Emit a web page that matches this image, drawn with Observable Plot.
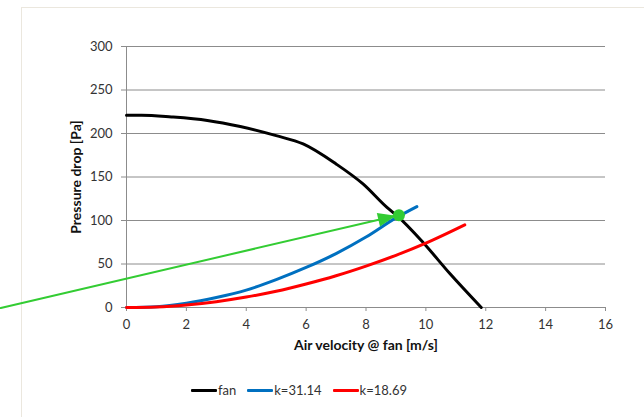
<!DOCTYPE html>
<html><head><meta charset="utf-8">
<script src="https://cdn.jsdelivr.net/npm/d3@7"></script>
<script src="https://cdn.jsdelivr.net/npm/@observablehq/plot@0.6"></script>
<style>
body{margin:0;background:#fff;}
#wrap{position:relative;width:644px;height:417px;overflow:hidden;font-family:Lato,"Open Sans",sans-serif;}
#frame{position:absolute;left:21px;top:7px;width:700px;height:500px;border-left:1px solid #ebe7de;border-top:1px solid #ebe7de;}
#chart{position:absolute;left:0;top:0;}
#legend{position:absolute;top:382px;left:191px;display:flex;align-items:center;font-size:13px;color:#333;line-height:16px;white-space:nowrap;}
.item{display:flex;align-items:center;margin-right:11px;}
.sw{width:26px;height:3px;margin-right:1px;border-radius:1px;}
</style></head>
<body>
<div id="wrap"><div id="frame"></div><div id="chart"></div><div id="legend"></div></div>
<script>
// Fan curve
const fanV = [0, 0.5, 1.5, 2.7, 3.8, 5, 5.9, 7, 7.9, 8.7, 9.05, 9.9, 10.8, 11.85];
const fanP = [221, 221, 219, 215, 208, 197.5, 188, 165, 142, 115, 105, 75, 39, 0];
// System curve k=31.14
const blueV = [0, 1, 2, 3, 4, 5, 6, 7, 8, 9, 9.7];
const blueP = [0, 1, 5, 11.5, 20, 32, 46, 62, 81, 103, 116];
// System curve k=18.69
const redV = [0, 1, 2, 3, 4, 5, 6, 7, 8, 9, 10, 11.3];
const redP = [0, 0.7, 3, 6.7, 12, 18.6, 27, 36.5, 47.6, 60, 74, 95];
// Operating point and arrow
const opV = [9.1], opP = [106];
const arrowV = [-4.2, 9.0], arrowP = [-0.5, 105.5];

const seriesNames = ["fan", "k=31.14", "k=18.69"];
const seriesColors = ["#000000", "#0070c0", "#ff0000"];
const yTicks = [0, 50, 100, 150, 200, 250, 300];
const xTicks = [0, 2, 4, 6, 8, 10, 12, 14, 16];

const toRows = (V, P) => V.map((v, i) => ({v, p: P[i]}));
const fan = toRows(fanV, fanP), blue = toRows(blueV, blueP), red = toRows(redV, redP);
const op = toRows(opV, opP), arrow = toRows(arrowV, arrowP);
const green = "#33cc33";

const triangle = {draw(ctx, l, r) { ctx.moveTo(0, -l); ctx.lineTo(r, 0); ctx.lineTo(-r, 0); ctx.closePath(); }};

const plot = Plot.plot({
  width: 644, height: 370,
  marginLeft: 126, marginRight: 39, marginTop: 46, marginBottom: 63,
  style: {fontFamily: "Lato, 'Open Sans', sans-serif", fontSize: "13px", background: "transparent", overflow: "visible"},
  x: {domain: [0, 16]},
  y: {domain: [0, 300]},
  marks: [
    Plot.gridY(yTicks, {stroke: "#8c8c8c", strokeOpacity: 1}),
    Plot.ruleX([0], {stroke: "#8c8c8c"}),
    Plot.axisY({ticks: yTicks, tickSize: 5, tickPadding: 9, stroke: "#8c8c8c", fill: "#333", label: null}),
    Plot.axisX({ticks: xTicks, tickSize: 4, tickPadding: 8, stroke: "#8c8c8c", fill: "#333", label: null}),
    Plot.text(["Pressure drop [Pa]"], {frameAnchor: "left", textAnchor: "middle", dx: -50, rotate: -90, fontWeight: "bold", fill: "#111", fontSize: 14}),
    Plot.text(["Air velocity @ fan [m/s]"], {frameAnchor: "bottom", textAnchor: "middle", dy: 42, fontWeight: "bold", fill: "#111", fontSize: 14}),
    Plot.line(fan, {x: "v", y: "p", stroke: seriesColors[0], strokeWidth: 3, curve: "monotone-x"}),
    Plot.line(blue, {x: "v", y: "p", stroke: seriesColors[1], strokeWidth: 3, curve: "monotone-x"}),
    Plot.line(red, {x: "v", y: "p", stroke: seriesColors[2], strokeWidth: 3, curve: "monotone-x"}),
    Plot.line(arrow, {x: "v", y: "p", stroke: green, strokeWidth: 2}),
    Plot.vector(arrow.slice(1), {x: "v", y: "p", length: 18, rotate: 77, anchor: "end", r: 7, shape: triangle, fill: green, stroke: "none"}),
    Plot.dot(op, {x: "v", y: "p", r: 6, fill: green})
  ]
});
document.getElementById("chart").appendChild(plot);

const legend = document.getElementById("legend");
seriesNames.forEach((n, i) => {
  const it = document.createElement("div"); it.className = "item";
  const sw = document.createElement("div"); sw.className = "sw"; sw.style.background = seriesColors[i];
  const t = document.createElement("span"); t.textContent = n;
  it.appendChild(sw); it.appendChild(t); legend.appendChild(it);
});
</script>
</body></html>
